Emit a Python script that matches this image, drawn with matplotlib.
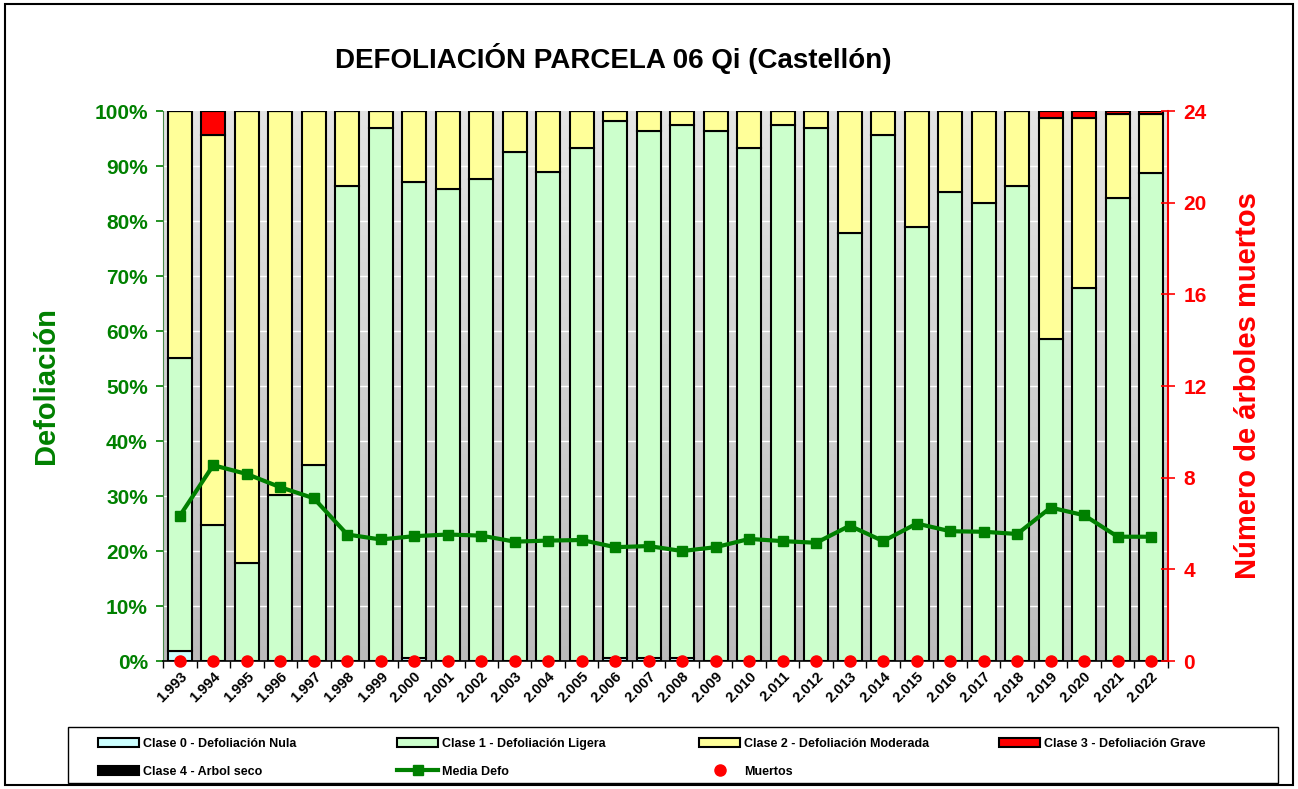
import numpy as np
import matplotlib.pyplot as plt
from matplotlib.patches import Rectangle

years = [f"{y // 1000}.{y % 1000:03d}" for y in range(1993, 2023)]

clase0 = [1.8, 0, 0, 0, 0, 0, 0, 0.5, 0, 0, 0, 0, 0, 0.6, 0.6,
          0.5, 0, 0, 0, 0, 0, 0, 0, 0, 0, 0, 0, 0, 0, 0]
clase1 = [53.3, 24.7, 17.8, 30.2, 35.6, 86.4, 96.9, 86.6, 85.8, 87.6, 92.5, 88.9, 93.3, 97.6, 95.8,
          97.0, 96.4, 93.3, 97.5, 96.9, 77.8, 95.6, 78.9, 85.3, 83.3, 86.4, 58.5, 67.8, 84.2, 88.7]
clase2 = [44.9, 71.0, 82.2, 69.8, 64.4, 13.6, 3.1, 12.9, 14.2, 12.4, 7.5, 11.1, 6.7, 1.8, 3.6,
          2.5, 3.6, 6.7, 2.5, 3.1, 22.2, 4.4, 21.1, 14.7, 16.7, 13.6, 40.3, 31.0, 15.25, 10.75]
clase3 = [0, 4.3, 0, 0, 0, 0, 0, 0, 0, 0, 0, 0, 0, 0, 0,
          0, 0, 0, 0, 0, 0, 0, 0, 0, 0, 0, 1.2, 1.2, 0.55, 0.55]
clase4 = [0] * 30
media = [26.4, 35.6, 34.0, 31.6, 29.6, 23.0, 22.1, 22.7, 23.0, 22.8, 21.7, 21.9, 22.0, 20.7, 20.9,
         20.0, 20.7, 22.2, 21.8, 21.5, 24.6, 21.8, 25.0, 23.6, 23.5, 23.1, 27.9, 26.5, 22.6, 22.6]
muertos = [0] * 30

plt.rcParams['font.family'] = ['Liberation Sans', 'DejaVu Sans']
plt.rcParams['font.weight'] = 'bold'
plt.rcParams['axes.labelweight'] = 'bold'

fig = plt.figure(figsize=(12.98, 7.89), dpi=100)
ax = fig.add_axes([0.1256, 0.1622, 0.7742, 0.6971])
x = np.arange(len(years))

# fondo degradado gris
grad = np.linspace(0, 1, 256).reshape(-1, 1)
cm = plt.matplotlib.colors.LinearSegmentedColormap.from_list('g', ['#e4e4e4', '#bcbcbc'])
ax.imshow(grad, cmap=cm, extent=[0, 1, 0, 1], transform=ax.transAxes, aspect='auto', zorder=0)
for v in range(10, 100, 10):
    ax.axhline(v, color='white', lw=1, zorder=0.5)

w = 0.72
series = [(clase0, '#ccffff', 'Clase 0 - Defoliación Nula'),
          (clase1, '#ccffcc', 'Clase 1 - Defoliación Ligera'),
          (clase2, '#ffff99', 'Clase 2 - Defoliación Moderada'),
          (clase3, '#ff0000', 'Clase 3 - Defoliación Grave'),
          (clase4, '#000000', 'Clase 4 - Arbol seco')]
bottom = np.zeros(len(years))
handles = []
for vals, col, lab in series:
    vals = np.array(vals, dtype=float)
    b = ax.bar(x, vals, w, bottom=bottom, color=col, edgecolor='black', linewidth=1.5, label=lab, zorder=2)
    handles.append(b)
    bottom += vals

ln, = ax.plot(x, media, color='#008000', lw=3, marker='s', markersize=6.5, label='Media Defo', zorder=4)

ax.set_xlim(-0.5, len(years) - 0.5)
ax.set_ylim(0, 100)
ax.set_yticks(range(0, 101, 10))
ax.set_yticklabels([f"{v}%" for v in range(0, 101, 10)])
ax.tick_params(axis='y', colors='#008000', labelsize=15, length=5, width=1.2, pad=6)
ax.set_xticks(x)
ax.set_xticklabels(years, rotation=45, ha='right', rotation_mode='anchor', fontsize=10.5)
ax.tick_params(axis='x', length=0, pad=6)
ax.set_xticks(np.arange(-0.5, len(years)), minor=True)
ax.tick_params(axis='x', which='minor', length=5, width=1, color='black')
ax.spines['left'].set_color('#4a8a4a')
ax.spines['top'].set_visible(False)
ax.spines['right'].set_visible(False)
ax.spines['bottom'].set_linewidth(1.2)
ax.set_ylabel('Defoliación', color='#008000', fontsize=21, labelpad=25)

ax2 = ax.twinx()
pts, = ax2.plot(x, muertos, 'o', color='#ff0000', markersize=8, clip_on=False, label='Muertos', zorder=5)
ax2.set_ylim(0, 24)
ax2.set_yticks(range(0, 25, 4))
ax2.tick_params(axis='y', colors='#ff0000', labelsize=15, direction='inout', length=10, width=1.2, pad=6)
ax2.spines['right'].set_color('#ff0000')
ax2.spines['right'].set_linewidth(1.5)
ax2.spines['top'].set_visible(False)
ax2.spines['left'].set_visible(False)
ax2.spines['bottom'].set_visible(False)
ax2.set_ylabel('Número de árboles muertos', color='#ff0000', fontsize=21, labelpad=20)

fig.text(0.4725, 0.926, 'DEFOLIACIÓN PARCELA 06 Qi (Castellón)', ha='center', va='center', fontsize=20)

# leyenda: 4 columnas colocadas a mano dentro de un marco
cols = [[handles[0], handles[4]], [handles[1], ln], [handles[2], pts], [handles[3]]]
col_x = [98, 397, 699, 999]
for hs, cx in zip(cols, col_x):
    fig.legend(hs, [h.get_label() for h in hs], loc='upper left',
               bbox_to_anchor=(cx / 1298, 1 - 738 / 789), frameon=False, fontsize=9,
               handlelength=3.3, handleheight=0.7, handletextpad=0.3, borderpad=0,
               borderaxespad=0, labelspacing=1.25)
fig.add_artist(Rectangle((68 / 1298, 1 - 783 / 789), 1210 / 1298, 56 / 789, transform=fig.transFigure,
                         fill=False, edgecolor='black', lw=1))

fig.add_artist(Rectangle((0.004, 0.005), 0.992, 0.99, transform=fig.transFigure,
                         fill=False, edgecolor='black', lw=1.5))

fig.savefig('out.png', dpi=100)
